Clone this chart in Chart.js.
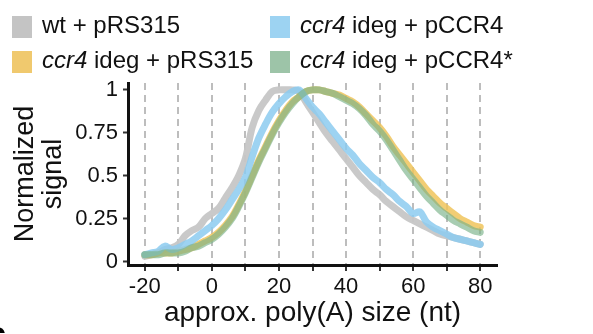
<!DOCTYPE html>
<html>
<head>
<meta charset="utf-8">
<script src="https://cdn.jsdelivr.net/npm/chart.js@4.4.1/dist/chart.umd.min.js"></script>
<style>
  html, body { margin: 0; padding: 0; background: #fff; }
  canvas { display: block; }
</style>
</head>
<body>
<canvas id="polya-chart" width="593" height="334"></canvas>
<script>
// poly(A) length (nt), sampled every 2 nt
const polyA = [-20, -18, -16, -14, -12, -10, -8, -6, -4, -2, 0, 2, 4, 6, 8, 10, 12, 14, 16, 18,
               20, 22, 24, 26, 28, 30, 32, 34, 36, 38, 40, 42, 44, 46, 48, 50, 52, 54, 56, 58,
               60, 62, 64, 66, 68, 70, 72, 74, 76, 78, 80];

const wtPRS315 = [0.03, 0.04, 0.05, 0.07, 0.08, 0.10, 0.15, 0.18, 0.20, 0.25, 0.28, 0.31, 0.37, 0.43, 0.50, 0.60, 0.78, 0.88, 0.94, 0.99,
                  1.00, 1.00, 1.00, 0.99, 0.93, 0.87, 0.81, 0.75, 0.70, 0.65, 0.60, 0.55, 0.50, 0.46, 0.42, 0.39, 0.35, 0.32, 0.29, 0.26,
                  0.24, 0.22, 0.20, 0.18, 0.16, 0.15, 0.14, 0.13, 0.12, 0.11, 0.10];

const ccr4PRS315 = [0.04, 0.04, 0.05, 0.05, 0.05, 0.06, 0.07, 0.08, 0.10, 0.12, 0.14, 0.17, 0.21, 0.26, 0.33, 0.41, 0.50, 0.59, 0.67, 0.75,
                    0.82, 0.88, 0.93, 0.96, 0.99, 1.00, 1.00, 0.99, 0.98, 0.97, 0.95, 0.93, 0.90, 0.86, 0.82, 0.78, 0.73, 0.67, 0.62, 0.57,
                    0.52, 0.47, 0.42, 0.38, 0.34, 0.31, 0.28, 0.25, 0.23, 0.21, 0.20];

const ccr4PCCR4 = [0.04, 0.05, 0.06, 0.09, 0.07, 0.08, 0.10, 0.12, 0.15, 0.18, 0.21, 0.25, 0.30, 0.36, 0.42, 0.49, 0.61, 0.72, 0.80, 0.87,
                   0.92, 0.96, 0.99, 1.00, 0.95, 0.90, 0.86, 0.81, 0.76, 0.71, 0.66, 0.62, 0.57, 0.53, 0.49, 0.46, 0.42, 0.39, 0.35, 0.32,
                   0.28, 0.29, 0.23, 0.20, 0.18, 0.16, 0.14, 0.13, 0.12, 0.11, 0.10];

const ccr4PCCR4mut = [0.04, 0.04, 0.04, 0.05, 0.05, 0.05, 0.06, 0.08, 0.09, 0.11, 0.13, 0.16, 0.20, 0.25, 0.32, 0.40, 0.49, 0.58, 0.66, 0.74,
                      0.81, 0.87, 0.92, 0.96, 0.99, 1.00, 1.00, 0.99, 0.98, 0.96, 0.94, 0.92, 0.89, 0.85, 0.80, 0.76, 0.71, 0.65, 0.59, 0.53,
                      0.48, 0.43, 0.38, 0.34, 0.30, 0.27, 0.24, 0.22, 0.20, 0.18, 0.17];

const xTicks = [-20, -10, 0, 10, 20, 30, 40, 50, 60, 70, 80];
const yTicks = [0, 0.25, 0.5, 0.75, 1];

const legendItems = [
  { italic: '', rest: 'wt + pRS315', color: '#c4c4c4', col: 0, row: 0 },
  { italic: 'ccr4', rest: ' ideg + pRS315', color: '#f0c96e', col: 0, row: 1 },
  { italic: 'ccr4', rest: ' ideg + pCCR4', color: '#9dd3f2', col: 1, row: 0 },
  { italic: 'ccr4', rest: ' ideg + pCCR4*', color: '#9dc4a8', col: 1, row: 1 }
];

const FONT = "'Liberation Sans', Arial, sans-serif";

const toPoints = (vals) => polyA.map((x, i) => ({ x: x, y: vals[i] }));

const lineSet = (label, vals, color, order) => ({
  label: label,
  data: toPoints(vals),
  borderColor: color,
  borderWidth: 7,
  pointRadius: 0,
  tension: 0.35,
  borderCapStyle: 'round',
  borderJoinStyle: 'round',
  fill: false,
  order: order
});

const legendPlugin = {
  id: 'twoColLegend',
  afterDraw(chart) {
    const ctx = chart.ctx;
    const colX = [12, 270];
    const rowY = [16, 51];
    ctx.save();
    ctx.textBaseline = 'middle';
    legendItems.forEach(item => {
      const x = colX[item.col];
      const y = rowY[item.row];
      ctx.fillStyle = item.color;
      ctx.fillRect(x, y, 20, 22);
      let tx = x + 30;
      const ty = y + 10;
      ctx.fillStyle = '#111';
      if (item.italic) {
        ctx.font = 'italic 24px ' + FONT;
        ctx.fillText(item.italic, tx, ty);
        tx += ctx.measureText(item.italic).width;
      }
      ctx.font = '24px ' + FONT;
      ctx.fillText(item.rest, tx, ty);
    });
    // panel letter cut off at the bottom-left corner
    ctx.font = 'bold 34px ' + FONT;
    ctx.fillStyle = '#000';
    ctx.textBaseline = 'alphabetic';
    ctx.fillText('c', -13, 345);
    ctx.restore();
  }
};

new Chart(document.getElementById('polya-chart'), {
  type: 'line',
  data: {
    datasets: [
      lineSet('wt + pRS315', wtPRS315, 'rgba(198, 198, 198, 0.95)', 4),
      lineSet('ccr4 ideg + pRS315', ccr4PRS315, 'rgba(240, 196, 92, 0.85)', 3),
      lineSet('ccr4 ideg + pCCR4', ccr4PCCR4, 'rgba(140, 203, 240, 0.85)', 2),
      lineSet('ccr4 ideg + pCCR4*', ccr4PCCR4mut, 'rgba(122, 178, 136, 0.65)', 1)
    ]
  },
  options: {
    responsive: false,
    animation: false,
    layout: { padding: { top: 83, right: 96, left: 0, bottom: 0 } },
    plugins: {
      legend: { display: false },
      tooltip: { enabled: false }
    },
    scales: {
      x: {
        type: 'linear',
        min: -25,
        max: 85,
        afterBuildTicks: (s) => { s.ticks = xTicks.map(v => ({ value: v })); },
        afterFit: (s) => { s.height = 69; },
        ticks: {
          color: '#111',
          font: { family: FONT, size: 22 },
          padding: 3,
          maxRotation: 0,
          autoSkip: false,
          callback: (v) => (v % 20 === 0 ? String(v) : '')
        },
        grid: {
          color: '#bdbdbd',
          lineWidth: 2,
          tickColor: '#333',
          tickWidth: 2,
          tickLength: 6,
          tickBorderDash: []
        },
        border: { color: '#111', width: 3, dash: [7, 5] },
        title: {
          display: true,
          text: 'approx. poly(A) size (nt)',
          color: '#111',
          font: { family: FONT, size: 28 },
          padding: { top: 0, bottom: 4 }
        }
      },
      y: {
        min: -0.02,
        max: 1.04,
        afterBuildTicks: (s) => { s.ticks = yTicks.map(v => ({ value: v })); },
        afterFit: (s) => { s.width = 128; },
        ticks: {
          color: '#111',
          font: { family: FONT, size: 22 },
          padding: 5,
          callback: (v) => String(v)
        },
        grid: {
          drawOnChartArea: false,
          tickColor: '#333',
          tickWidth: 2,
          tickLength: 5
        },
        border: { color: '#111', width: 3 },
        title: {
          display: true,
          text: ['Normalized', 'signal'],
          color: '#111',
          font: { family: FONT, size: 27, lineHeight: 1.05 },
          padding: { top: 11, bottom: 0 }
        }
      }
    }
  },
  plugins: [legendPlugin]
});
</script>
</body>
</html>
